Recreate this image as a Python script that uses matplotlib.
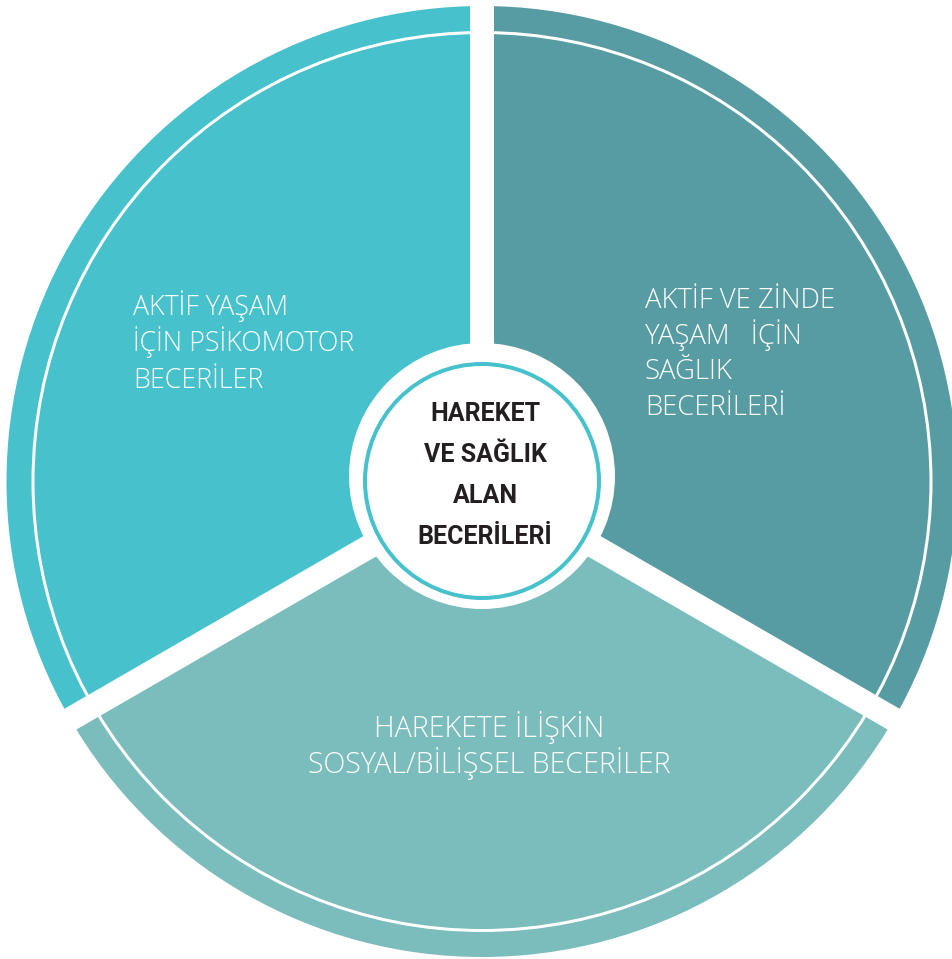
import matplotlib
matplotlib.use("Agg")
import matplotlib.pyplot as plt
from matplotlib.patches import Circle
import numpy as np

# ---- data ----
segment_names = ["AKTİF YAŞAM İÇİN PSİKOMOTOR BECERİLER",
                 "HAREKETE İLİŞKİN SOSYAL/BİLİŞSEL BECERİLER",
                 "AKTİF VE ZİNDE YAŞAM İÇİN SAĞLIK BECERİLERİ"]
segment_values = [1, 1, 1]
segment_colors = ["#47C2CD", "#7BBCBC", "#579CA2"]

left_lines = ["AKTİF YAŞAM", "İÇİN PSİKOMOTOR", "BECERİLER"]
right_lines = ["AKTİF VE ZİNDE", "YAŞAM   İÇİN", "SAĞLIK", "BECERİLERİ"]
bottom_lines = ["HAREKETE İLİŞKİN", "SOSYAL/BİLİŞSEL BECERİLER"]
center_lines = ["HAREKET", "VE SAĞLIK", "ALAN", "BECERİLERİ"]

W, H = 952, 959
PT = 72 / 100.0  # pixels -> points

fig = plt.figure(figsize=(W / 100, H / 100), dpi=100)
ax = fig.add_axes([0, 0, 1, 1])

cx, cy = 482, H - 481.5
R = 475.5

ax.pie(segment_values, colors=segment_colors, startangle=90, counterclock=True,
       center=(cx, cy), radius=R, frame=True,
       wedgeprops=dict(linewidth=0))

# inner thin white arc
ax.add_patch(Circle((cx, cy), 449, fill=False, ec="white", lw=3 * PT, zorder=3))

# white gaps between segments
total = sum(segment_values)
bounds = 90 + 360 * np.concatenate([[0], np.cumsum(segment_values)[:-1]]) / total
for a in bounds:
    t = np.deg2rad(a)
    ax.plot([cx, cx + (R + 40) * np.cos(t)], [cy, cy + (R + 40) * np.sin(t)],
            color="white", lw=24 * PT, solid_capstyle="butt", zorder=4)

# centre disk and ring
ax.add_patch(Circle((482, H - 476), 133, fc="white", ec="none", zorder=5))
ax.add_patch(Circle((482, H - 481), 117, fill=False, ec="#47C2CD", lw=4 * PT, zorder=6))

label_font = dict(family=["Open Sans", "DejaVu Sans"], color="white",
                  fontweight="light", va="baseline", zorder=7)

for i, s in enumerate(left_lines):
    ax.text(133, H - (315 + 36.5 * i), s, ha="left", fontsize=19.3, **label_font)
for i, s in enumerate(right_lines):
    ax.text(645, H - (308 + 35.7 * i), s, ha="left", fontsize=19.8, **label_font)
for i, s in enumerate(bottom_lines):
    ax.text(489, H - (737 + 36 * i), s, ha="center", fontsize=20.6, **label_font)
for i, s in enumerate(center_lines):
    ax.text(485, H - (421 + 41 * i), s, ha="center", va="baseline",
            family=["Roboto", "DejaVu Sans"], fontsize=18, fontweight="bold",
            color="#231F20", zorder=7)

ax.set_xlim(0, W)
ax.set_ylim(0, H)
ax.set_aspect("equal")
ax.axis("off")

fig.savefig("out.png", dpi=100, facecolor="white")
